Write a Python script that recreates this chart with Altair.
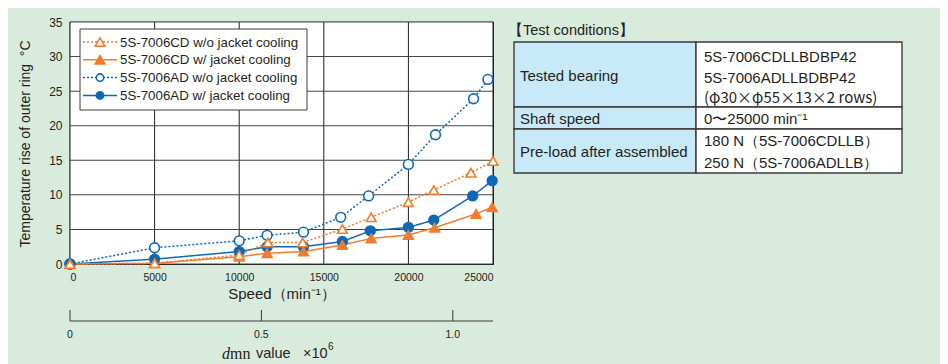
import altair as alt
import pandas as pd

# ---------------- data ----------------
series = [
    "5S-7006CD w/o jacket cooling",
    "5S-7006CD w/ jacket cooling",
    "5S-7006AD w/o jacket cooling",
    "5S-7006AD w/ jacket cooling",
]

speed_cd_wo = [0, 5000, 10000, 11700, 13750, 16100, 17800, 20000, 21500, 23700, 25000]
temp_cd_wo = [0, 0.1, 1.3, 3.1, 3.1, 5.05, 6.75, 8.95, 10.7, 13.2, 14.9]

speed_cd_w = [0, 5000, 10000, 11650, 13800, 16100, 17800, 20000, 21550, 24000, 24950]
temp_cd_w = [0, 0.1, 1.05, 1.55, 1.8, 2.75, 3.7, 4.2, 5.25, 7.25, 8.2]

speed_ad_wo = [0, 5000, 10000, 11650, 13800, 16000, 17650, 20000, 21600, 23850, 24700]
temp_ad_wo = [0, 2.35, 3.35, 4.15, 4.6, 6.75, 9.85, 14.4, 18.7, 23.9, 26.7]

speed_ad_w = [0, 5000, 10000, 11650, 13800, 16100, 17750, 20000, 21500, 23800, 24950]
temp_ad_w = [0, 0.7, 1.8, 2.5, 2.5, 3.25, 4.8, 5.3, 6.35, 9.85, 12.05]

speed_ticks = [0, 5000, 10000, 15000, 20000, 25000]
temp_ticks = [0, 5, 10, 15, 20, 25, 30, 35]
dmn_ticks = [0, 0.5, 1.0]
dmn_max = 1.105  # dmn value (x10^6) reached at 25000 min-1
speed_max = 25000
temp_max = 35

y_title = "Temperature rise of outer ring\u00a0\u00a0°C"
x_title = "Speed（min⁻¹）"

table_header = "【Test conditions】"
table_left = ["Tested bearing", "Shaft speed", "Pre-load after assembled"]
table_right = [
    ["5S-7006CDLLBDBP42", "5S-7006ADLLBDBP42", "(φ30×φ55×13×2 rows)"],
    ["0〜25000 min⁻¹"],
    ["180 N（5S-7006CDLLB）", "250 N（5S-7006ADLLB）"],
]

# ---------------- styles ----------------
ORANGE = "#f07c2c"
BLUE = "#0f68b6"
TXT = "#231f20"
FONT = "Liberation Sans"
colors = [ORANGE, ORANGE, BLUE, BLUE]
fills = ["white", ORANGE, "white", BLUE]
shapes = ["triangle-up", "triangle-up", "circle", "circle"]
sizes = [95, 95, 55, 55]
dashes = [[2, 2], [1, 0], [2, 2], [1, 0]]
draw_order = [2, 3, 1, 0]  # AD series under CD series, as in the original

W, H = 423, 242

all_series = [
    (speed_cd_wo, temp_cd_wo),
    (speed_cd_w, temp_cd_w),
    (speed_ad_wo, temp_ad_wo),
    (speed_ad_w, temp_ad_w),
]
rows = []
for idx in draw_order:
    sp, tp = all_series[idx]
    for s, t in zip(sp, tp):
        rows.append({"series": series[idx], "speed": s, "temp": t})
df = pd.DataFrame(rows)

x_scale = alt.Scale(domain=[0, speed_max], nice=False)
y_scale = alt.Scale(domain=[0, temp_max], nice=False)
x_axis = alt.Axis(
    values=speed_ticks, format="d", title=x_title,
    grid=False, ticks=False, tickSize=0, domain=False,
    labelFont=FONT, labelFontSize=10.5, labelColor=TXT, labelPadding=8,
    titleFont=FONT, titleFontSize=15, titleFontWeight="normal",
    titleColor=TXT, titlePadding=4,
)
y_axis = alt.Axis(
    values=temp_ticks, format="d", title=None,
    grid=False, ticks=False, tickSize=0, domain=False,
    labelFont=FONT, labelFontSize=12, labelColor=TXT, labelPadding=8,
)
x_enc = alt.X("speed:Q", scale=x_scale, axis=x_axis)
y_enc = alt.Y("temp:Q", scale=y_scale, axis=y_axis)

one = pd.DataFrame({"k": [0]})

layers = []
# white plot background
layers.append(
    alt.Chart(one).mark_rect(fill="white").encode(
        x=alt.value(0), x2=alt.value(W), y=alt.value(0), y2=alt.value(H)
    )
)

# grid lines drawn as thin full-length tick marks on the shared scales
layers.append(
    alt.Chart(pd.DataFrame({"speed": speed_ticks}))
    .mark_tick(orient="vertical", size=H, thickness=1, color="#1e1e1e", opacity=1)
    .encode(x=x_enc, y=alt.value(H / 2))
)
layers.append(
    alt.Chart(pd.DataFrame({"temp": temp_ticks}))
    .mark_tick(orient="horizontal", size=W, thickness=1, color="#444444", opacity=1)
    .encode(y=y_enc, x=alt.value(W / 2))
)

# one line per series
base = alt.Chart(df)
for idx in draw_order:
    layers.append(
        base.transform_filter(alt.datum.series == series[idx])
        .mark_line(color=colors[idx], strokeDash=dashes[idx], strokeWidth=1.5)
        .encode(x=x_enc, y=y_enc)
    )

layers.append(
    base.mark_point(filled=True, strokeWidth=1.6, opacity=1, fillOpacity=1).encode(
        x=x_enc,
        y=y_enc,
        stroke=alt.Stroke("series:N", scale=alt.Scale(domain=series, range=colors), legend=None),
        fill=alt.Fill("series:N", scale=alt.Scale(domain=series, range=fills), legend=None),
        shape=alt.Shape("series:N", scale=alt.Scale(domain=series, range=shapes), legend=None),
        size=alt.Size("series:N", scale=alt.Scale(domain=series, range=sizes), legend=None),
    )
)

# y axis title
layers.append(
    alt.Chart(one).mark_text(
        text=y_title, angle=270, align="center", baseline="middle",
        font=FONT, fontSize=14, color=TXT
    ).encode(x=alt.value(-44), y=alt.value(H / 2 + 1))
)

# ---------------- manual legend ----------------
layers.append(
    alt.Chart(one).mark_rect(fill="white", stroke="#3a3a3a", strokeWidth=1).encode(
        x=alt.value(10), x2=alt.value(237), y=alt.value(7), y2=alt.value(88)
    )
)
for i, name in enumerate(series):
    yy = 20 + i * 17.8
    layers.append(
        alt.Chart(one).mark_rule(color=colors[i], strokeWidth=1.5, strokeDash=dashes[i]).encode(
            x=alt.value(13), x2=alt.value(47), y=alt.value(yy)
        )
    )
    layers.append(
        alt.Chart(one).mark_point(
            shape=shapes[i], size=sizes[i], filled=True, fill=fills[i], stroke=colors[i],
            strokeWidth=1.6, opacity=1, fillOpacity=1,
        ).encode(x=alt.value(30), y=alt.value(yy))
    )
    layers.append(
        alt.Chart(one).mark_text(
            text=name, align="left", baseline="middle", font=FONT, fontSize=13.3, color=TXT
        ).encode(x=alt.value(50), y=alt.value(yy + 0.5))
    )

# ---------------- secondary dmn axis (drawn on the speed scale) ----------------
dmn_base = alt.Chart(pd.DataFrame({"dmn": dmn_ticks})).transform_calculate(
    speed=f"datum.dmn / {dmn_max} * {speed_max}",
    label="datum.dmn == 0 ? '0' : format(datum.dmn, '.1f')",
)
layers.append(
    alt.Chart(one).mark_rule(color="#3a3a3a", strokeWidth=1).encode(
        x=alt.value(0), x2=alt.value(W), y=alt.value(H + 57)
    )
)
layers.append(
    dmn_base.mark_rule(color="#3a3a3a", strokeWidth=1).encode(
        x=x_enc, y=alt.value(H + 46), y2=alt.value(H + 57)
    )
)
layers.append(
    dmn_base.mark_text(
        baseline="middle", align="center", font=FONT, fontSize=10.5, color=TXT
    ).encode(x=x_enc, y=alt.value(H + 71), text="label:N")
)
# dmn axis title (mixed fonts)
layers.append(
    alt.Chart(one).mark_text(
        text="d", align="left", baseline="middle", font="Liberation Serif", fontStyle="italic",
        fontSize=16, color=TXT
    ).encode(x=alt.value(152), y=alt.value(332))
)
layers.append(
    alt.Chart(one).mark_text(
        text="mn", align="left", baseline="middle", font="Liberation Serif", fontSize=16, color=TXT
    ).encode(x=alt.value(160), y=alt.value(332))
)
layers.append(
    alt.Chart(one).mark_text(
        text="value", align="left", baseline="middle", font=FONT, fontSize=14.5, color=TXT
    ).encode(x=alt.value(186), y=alt.value(332))
)
layers.append(
    alt.Chart(one).mark_text(
        text="×10", align="left", baseline="middle", font=FONT, fontSize=14.5, color=TXT
    ).encode(x=alt.value(233), y=alt.value(332))
)
layers.append(
    alt.Chart(one).mark_text(
        text="6", align="left", baseline="middle", font=FONT, fontSize=10, color=TXT
    ).encode(x=alt.value(258), y=alt.value(325))
)

# ---------------- table of test conditions ----------------
TX0, TX1, TX2 = 444, 626, 832
row_edges = [20, 85, 107, 151]
layers.append(
    alt.Chart(one).mark_text(
        text=table_header, align="left", baseline="middle", font=FONT, fontSize=14.5, color=TXT, dx=-4
    ).encode(x=alt.value(TX0 - 2), y=alt.value(9))
)
for r in range(3):
    y0, y1 = row_edges[r], row_edges[r + 1]
    layers.append(
        alt.Chart(one).mark_rect(fill="#c8e9f8", stroke="#3a3a3a", strokeWidth=1.4).encode(
            x=alt.value(TX0), x2=alt.value(TX1), y=alt.value(y0), y2=alt.value(y1)
        )
    )
    layers.append(
        alt.Chart(one).mark_rect(fill="white", stroke="#3a3a3a", strokeWidth=1.4).encode(
            x=alt.value(TX1), x2=alt.value(TX2), y=alt.value(y0), y2=alt.value(y1)
        )
    )
    yc = (y0 + y1) / 2
    layers.append(
        alt.Chart(one).mark_text(
            text=table_left[r], align="left", baseline="middle", font=FONT, fontSize=15, color=TXT
        ).encode(x=alt.value(TX0 + 6), y=alt.value(yc + 1))
    )
    n = len(table_right[r])
    step = 20.5 if n == 3 else 22
    for j, line in enumerate(table_right[r]):
        yy = yc + (j - (n - 1) / 2) * step + (3 if n == 3 else 1)
        fnt = "Noto Sans CJK JP" if "φ" in line else FONT
        layers.append(
            alt.Chart(one).mark_text(
                text=line, align="left", baseline="middle", font=fnt, fontSize=15, color=TXT
            ).encode(x=alt.value(TX1 + 8), y=alt.value(yy))
        )

chart = (
    alt.layer(*layers)
    .properties(
        width=W,
        height=H,
        autosize=alt.AutoSizeParams(type="none"),
        padding={"left": 62, "top": 14, "right": 447, "bottom": 100},
        background="#d8ebdd",
    )
    .configure_view(stroke="#111", strokeWidth=1.2)
)

chart.save("out.html", embed_options={"renderer": "svg", "actions": False})
